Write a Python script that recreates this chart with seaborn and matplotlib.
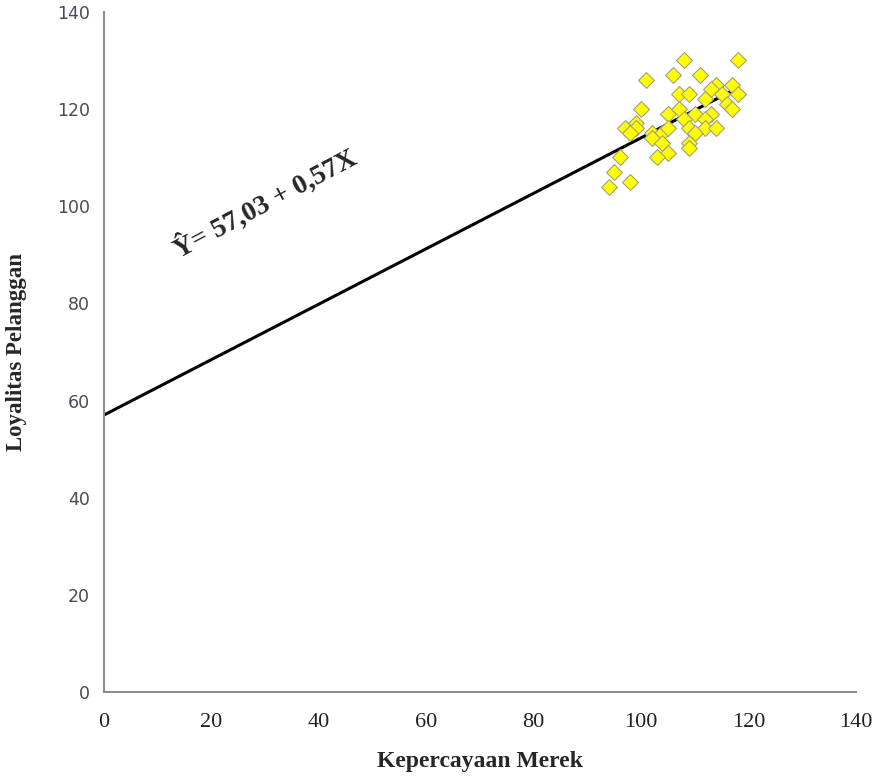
import numpy as np
import pandas as pd
import matplotlib
matplotlib.use("Agg")
import matplotlib.pyplot as plt
import seaborn as sns

kepercayaan = [108, 118, 101, 106, 111, 114, 117, 113, 107, 109, 115, 118, 112, 116,
               117, 100, 107, 105, 113, 110, 108, 112, 99, 97, 99, 98, 102, 104,
               105, 109, 112, 114, 110, 102, 104, 109, 109, 105, 103, 96, 95, 98, 94]
loyalitas = [130, 130, 126, 127, 127, 125, 125, 124, 123, 123, 123, 123, 122, 121,
             120, 120, 120, 119, 119, 119, 118, 118, 117, 116, 116, 115, 115, 115,
             116, 116, 116, 116, 115, 114, 113, 113, 112, 111, 110, 110, 107, 105, 104]

# Regression line Y = a + bX
intercept = 57.03
slope = 0.57
line_x = [0, 118]
equation = "Ŷ= 57,03 + 0,57X"

df = pd.DataFrame({"x": kepercayaan, "y": loyalitas})
line_df = pd.DataFrame({"x": line_x, "y": [intercept + slope * v for v in line_x]})

sns.set_style("white")
plt.rcParams['font.family'] = ['Liberation Serif', 'DejaVu Serif']

fig = plt.figure(figsize=(8.75, 7.76), dpi=100)
ax = fig.add_axes([0.119, 0.108, 0.859, 0.877])

sns.lineplot(data=line_df, x="x", y="y", color="black", linewidth=2.2, ax=ax, zorder=2)
sns.scatterplot(data=df, x="x", y="y", marker="D", s=65, color="#ffff00",
                edgecolor="#a0a080", linewidth=0.8, ax=ax, zorder=3)

ax.set_xlim(0, 140)
ax.set_ylim(0, 140)
ax.set_xticks(range(0, 141, 20))
ax.set_yticks(range(0, 141, 20))

for s in ["top", "right"]:
    ax.spines[s].set_visible(False)
for s in ["left", "bottom"]:
    ax.spines[s].set_color("#8c8c8c")
    ax.spines[s].set_linewidth(1.5)

ax.tick_params(axis="both", direction="out", length=7, width=1.5, color="#8c8c8c")
ax.tick_params(axis="x", labelsize=16, pad=8, labelcolor="#222222")
ax.tick_params(axis="y", labelsize=12.5, pad=3, labelcolor="#4a4a5a")
for lbl in ax.get_yticklabels():
    lbl.set_family("DejaVu Sans")

ax.set_xlabel("Kepercayaan Merek", fontsize=17, fontweight="bold", labelpad=14)
ax.set_ylabel("Loyalitas Pelanggan", fontsize=16.5, fontweight="bold", labelpad=22)

ax.text(30, 100.5, equation, rotation=28, fontsize=20, fontweight="bold",
        ha="center", va="center", rotation_mode="anchor")

fig.savefig("out.png", dpi=100)
